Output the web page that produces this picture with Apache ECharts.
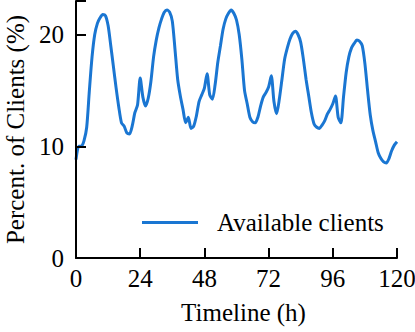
<!DOCTYPE html>
<html>
<head>
<meta charset="utf-8">
<script src="https://cdn.jsdelivr.net/npm/echarts@6/dist/echarts.min.js"></script>
<style>
  html, body { margin: 0; padding: 0; background: #fff; }
  #chart { width: 415px; height: 332px; }
</style>
</head>
<body>
<div id="chart"></div>
<script>
// hourly share of available clients (%)
const hours = [];
for (let h = 0; h <= 120; h++) hours.push(h);
const clients = [
  8.8, 10.0, 10.0, 10.5, 11.7, 15.0, 18.0, 20.0, 21.0, 21.5,
  21.8, 21.7, 20.8, 19.0, 17.1, 15.2, 13.5, 12.1, 11.8, 11.2,
  11.1, 11.8, 13.0, 13.7, 16.1, 14.4, 13.6, 14.3, 15.8, 18.0,
  19.5, 20.6, 21.4, 22.0, 22.2, 22.0, 21.2, 18.7, 16.0, 14.5,
  13.3, 12.1, 12.6, 11.6, 11.8, 12.7, 14.0, 14.6, 15.2, 16.5,
  14.6, 14.2, 15.5, 17.5, 19.0, 20.5, 21.4, 21.9, 22.2, 21.9,
  21.3, 20.0, 17.8, 15.0, 13.8, 12.6, 12.2, 12.1, 12.6, 13.6,
  14.4, 14.8, 15.3, 16.3, 14.0, 12.9, 14.2, 16.0, 17.8, 18.8,
  19.6, 20.1, 20.3, 20.0, 19.3, 17.8, 16.0, 14.5, 13.0, 12.0,
  11.7, 11.6, 11.9, 12.3, 12.9, 13.3, 13.8, 14.5, 12.6, 12.1,
  14.4, 16.6, 18.0, 18.8, 19.2, 19.5, 19.4, 19.0, 17.4, 15.0,
  12.8, 11.4, 10.4, 9.4, 8.9, 8.6, 8.5, 8.9, 9.6, 10.1,
  10.4
];
const xTicks = [0, 24, 48, 72, 96, 120];
const yTicks = [0, 10, 20];
const yMax = 23;

const font = 'Liberation Serif';
const blue = '#1a76d2';

const chart = echarts.init(document.getElementById('chart'), null, { renderer: 'svg' });
chart.setOption({
  animation: false,
  textStyle: { fontFamily: font, color: '#000' },
  grid: { left: 76, right: 18, top: 1, bottom: 74, outerBoundsMode: 'none' },
  legend: {
    data: ['Available clients'],
    left: 137, top: 205,
    itemWidth: 56, itemHeight: 3, itemGap: 8,
    icon: 'rect',
    textStyle: { fontFamily: font, fontSize: 25, color: '#000', padding: [0, 0, 0, 14] }
  },
  xAxis: {
    type: 'value', min: 0, max: 120, interval: 24, z: 10,
    name: 'Timeline (h)', nameLocation: 'middle', nameGap: 42,
    nameTextStyle: { fontFamily: font, fontSize: 25, color: '#000', padding: [0, 0, 0, 14] },
    axisLine: { show: true, lineStyle: { color: '#000000', width: 2 } },
    axisTick: { show: true, inside: true, length: 10, lineStyle: { color: '#000000', width: 2 } },
    axisLabel: { fontFamily: font, fontSize: 25, color: '#000', margin: 8,
      formatter: v => xTicks.includes(v) ? String(v) : '' },
    splitLine: { show: false }
  },
  yAxis: {
    type: 'value', min: 0, max: yMax, interval: 10, z: 10,
    name: 'Percent. of Clients (%)', nameLocation: 'middle', nameGap: 48,
    nameTextStyle: { fontFamily: font, fontSize: 25, color: '#000' },
    axisLine: { show: true, lineStyle: { color: '#000000', width: 2 } },
    axisTick: { show: true, inside: true, length: 10, lineStyle: { color: '#000000', width: 2 } },
    axisLabel: { fontFamily: font, fontSize: 25, color: '#000', margin: 12,
      formatter: v => yTicks.includes(v) ? String(v) : '' },
    splitLine: { show: false }
  },
  series: [{
    name: 'Available clients',
    type: 'line',
    data: hours.map((h, i) => [h, clients[i]]),
    smooth: 0.25,
    showSymbol: false,
    itemStyle: { color: blue },
    lineStyle: { color: blue, width: 3 }
  }]
});
</script>
</body>
</html>
